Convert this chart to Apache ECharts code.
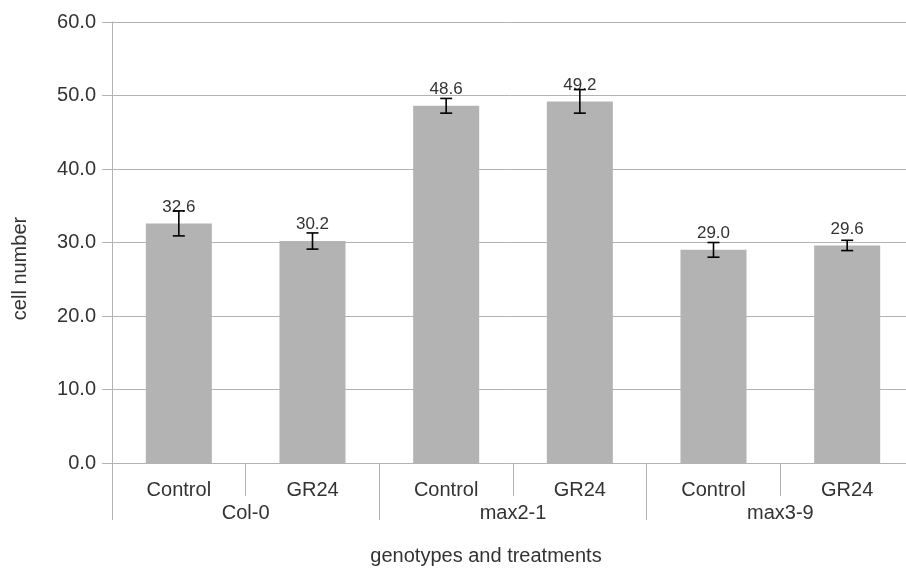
<!DOCTYPE html>
<html>
<head>
<meta charset="utf-8">
<script src="https://cdn.jsdelivr.net/npm/echarts@6/dist/echarts.min.js"></script>
<style>
  html, body { margin: 0; padding: 0; background: #ffffff; }
  #chart { width: 906px; height: 568px; }
</style>
</head>
<body>
<div id="chart"></div>
<script>
// Treatments per bar, genotype groups underneath
const treatments = ['Control', 'GR24', 'Control', 'GR24', 'Control', 'GR24'];
const genotypes = ['Col-0', 'max2-1', 'max3-9'];
// Mean cell number and its error (± value)
const means = [32.6, 30.2, 48.6, 49.2, 29.0, 29.6];
const errors = [1.7, 1.1, 1.0, 1.6, 1.0, 0.7];
// Y axis scale
const yMin = 0, yMax = 60, yStep = 10;

const FONT = 'Liberation Sans, Arial, sans-serif';
const GRID_COLOR = '#b3b3b3';
const TEXT_COLOR = '#333333';

const chart = echarts.init(document.getElementById('chart'), null, { renderer: 'canvas' });

const errorData = means.map((m, i) => [i, m - errors[i], m + errors[i]]);

chart.setOption({
  animation: false,
  backgroundColor: '#ffffff',
  grid: {
    left: 112, top: 22, bottom: 105, width: 802,
    containLabel: false,
    outerBoundsMode: 'none'
  },
  xAxis: [
    {
      type: 'category',
      data: treatments,
      position: 'bottom',
      boundaryGap: true,
      axisLine: { show: true, lineStyle: { color: GRID_COLOR, width: 1 } },
      axisTick: { show: true, length: 33, lineStyle: { color: GRID_COLOR } },
      axisLabel: { margin: 17, fontFamily: FONT, fontSize: 20, color: TEXT_COLOR },
      name: 'genotypes and treatments',
      nameLocation: 'middle',
      nameGap: 83,
      nameTextStyle: {
        fontFamily: FONT, fontSize: 20, color: TEXT_COLOR,
        padding: [0, 54, 0, 0]
      }
    },
    {
      type: 'category',
      data: genotypes,
      position: 'bottom',
      boundaryGap: true,
      axisLine: { show: false },
      axisTick: { show: true, length: 57, lineStyle: { color: GRID_COLOR } },
      axisLabel: { margin: 40, fontFamily: FONT, fontSize: 20, color: TEXT_COLOR }
    }
  ],
  yAxis: {
    type: 'value',
    min: yMin,
    max: yMax,
    interval: yStep,
    axisLine: { show: true, lineStyle: { color: GRID_COLOR } },
    axisTick: { show: true, length: 10, lineStyle: { color: GRID_COLOR } },
    splitLine: { show: true, lineStyle: { color: GRID_COLOR, width: 1 } },
    axisLabel: {
      margin: 16,
      fontFamily: FONT,
      fontSize: 20,
      color: TEXT_COLOR,
      formatter: v => v.toFixed(1)
    },
    name: 'cell number',
    nameLocation: 'middle',
    nameGap: 82,
    nameTextStyle: {
      fontFamily: FONT, fontSize: 20, color: TEXT_COLOR,
      padding: [0, 52, 0, 0]
    }
  },
  series: [
    {
      type: 'bar',
      xAxisIndex: 0,
      data: means,
      barWidth: '49.4%',
      itemStyle: { color: '#b3b3b3' },
      label: {
        show: true,
        position: 'top',
        distance: 8,
        fontFamily: FONT,
        fontSize: 17,
        color: TEXT_COLOR,
        formatter: p => p.value.toFixed(1)
      },
      z: 2
    },
    {
      type: 'custom',
      xAxisIndex: 0,
      data: errorData,
      z: 5,
      renderItem: (params, api) => {
        const x = api.value(0);
        const lo = api.coord([x, api.value(1)]);
        const hi = api.coord([x, api.value(2)]);
        const cap = 6;
        const style = { stroke: '#000000', lineWidth: 1.6 };
        return {
          type: 'group',
          children: [
            { type: 'line', shape: { x1: hi[0], y1: hi[1], x2: lo[0], y2: lo[1] }, style },
            { type: 'line', shape: { x1: hi[0] - cap, y1: hi[1], x2: hi[0] + cap, y2: hi[1] }, style },
            { type: 'line', shape: { x1: lo[0] - cap, y1: lo[1], x2: lo[0] + cap, y2: lo[1] }, style }
          ]
        };
      }
    }
  ]
});
</script>
</body>
</html>
